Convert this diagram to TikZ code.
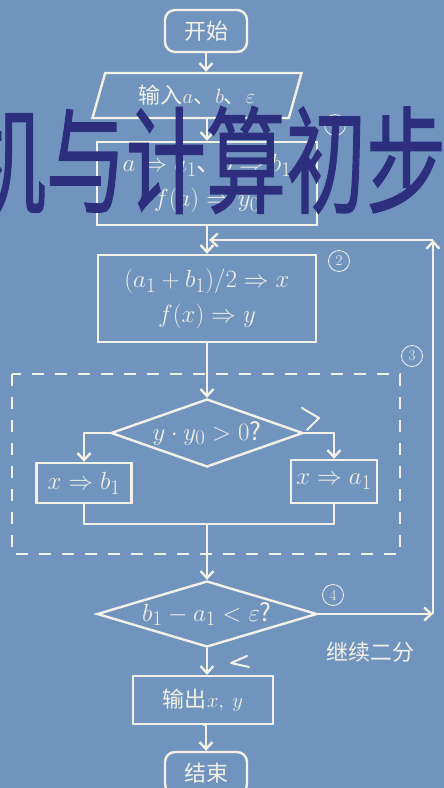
\documentclass[tikz,border=0pt]{standalone}
\usepackage{amsmath}
\usepackage{fontspec}
\newfontfamily\cjk{Noto Sans CJK SC}
\newfontfamily\cjkbig[FakeBold=1.2]{Noto Sans CJK SC}
\usetikzlibrary{arrows.meta,positioning,shapes.geometric,calc}
\definecolor{fbg}{HTML}{7094BE}
\definecolor{fline}{HTML}{F3F1E6}
\definecolor{fink}{HTML}{2E2E7E}
\newcommand{\mtxt}{\fontsize{24.88}{35}\selectfont}
\tikzset{
  >={Straight Barb[length=7pt,width=13pt]},
  fflow/.style={->, fline, line width=2.4pt},
  fseg/.style={fline, line width=2.4pt},
  fbox/.style={rectangle, draw=fline, line width=2.4pt, text=fline,
               align=center, inner sep=2pt, font=\cjk\mtxt},
  fterm/.style={fbox, rounded corners=10pt, minimum width=82pt, minimum height=42pt,
                font=\cjk\fontsize{22}{26}\selectfont},
  fio/.style={trapezium, trapezium left angle=58, trapezium right angle=122,
              trapezium stretches body, draw=fline, line width=2.4pt, text=fline,
              minimum width=209pt, minimum height=45pt, inner sep=0pt,
              font=\cjk\fontsize{22}{26}\selectfont},
  fdec/.style={diamond, draw=fline, line width=2.4pt, text=fline, inner sep=0pt,
               font=\cjk\mtxt},
  fnum/.style={circle, draw=fline, line width=0.8pt, text=fline, minimum size=21pt,
               inner sep=0pt, font=\fontsize{15}{15}\selectfont},
  fdash/.style={fline, line width=2.4pt, dash pattern=on 12pt off 11pt},
  fmark/.style={fline, line width=2pt, line cap=round, line join=round},
  flbl/.style={text=fline, font=\cjk\fontsize{22}{26}\selectfont},
}

\begin{document}
\begin{tikzpicture}[x=1pt, y=-1pt]

  % fundo
  \fill[fbg] (0,0) rectangle (444,788);
  \useasboundingbox (0,0) rectangle (444,788);
  \clip (0,0) rectangle (444,788);

  % blocos principais
  \node[fterm] (start) at (206,31) {开始};
  \node[fio] (input) at (197,95.5) {输入$a$、$b$、$\varepsilon$};
  \node[fbox, minimum width=220pt, minimum height=83pt] (init) at (207,183.5)
      {$a\Rightarrow a_1$、$b\Rightarrow b_1$\\$f(a)\Rightarrow y_0$};
  \node[fbox, minimum width=218pt, minimum height=87pt] (mid) at (207,298.5)
      {$(a_1+b_1)/2\Rightarrow x$\\$f(x)\Rightarrow y$};
  \node[fdec, aspect=2.8, minimum width=192pt, minimum height=68pt] (test) at (207,433)
      {$y\cdot y_0>0$?};
  \node[fbox, minimum width=95pt, minimum height=40pt] (setb) at (84,483)
      {$x\Rightarrow b_1$};
  \node[fbox, minimum width=86pt, minimum height=43pt] (seta) at (334,481.5)
      {$x\Rightarrow a_1$};
  \node[fdec, aspect=3.3, minimum width=220pt, minimum height=66pt] (stop) at (207,614)
      {$b_1-a_1<\varepsilon$?};
  \node[fbox, minimum width=140pt, minimum height=48pt,
        font=\cjk\fontsize{22}{26}\selectfont] (out) at (203,700)
      {输出$x,\ y$};
  \node[fterm] (end) at (206,773) {结束};

  % numeros circulados
  \node[fnum] (n1) at (335,125) {1};
  \node[fnum] (n2) at (339,261) {2};
  \node[fnum] (n3) at (412,356) {3};
  \node[fnum] (n4) at (333,595) {4};

  % bloco tracejado
  \draw[fdash] (12,374) rectangle (400,554);

  % ligacoes
  \draw[fflow] (start.south) -- (start.south |- input.north);
  \draw[fflow] (init.south |- input.south) -- (init.north);
  \draw[fflow] (init.south) -- (mid.north);
  \draw[fflow] (mid.south) -- (test.north);
  \draw[fflow] (test.west) -| (setb.north);
  \draw[fflow] (test.east) -| (seta.north);
  \coordinate (join) at (207,524);
  \draw[fseg] (setb.south) |- (join) -| (seta.south);
  \draw[fflow] (join) -- (stop.north);
  \draw[fflow] (stop.south) -- (stop.south |- out.north);
  \draw[fflow] (out.south) -- (out.south -| end.north) -- (end.north);

  % laco de volta
  \coordinate (lpa) at (433,614);
  \coordinate (lpb) at (433,240);
  \coordinate (lpc) at (209,240);
  \draw[fflow] (stop.east) -- (lpa);
  \draw[fflow] (lpa) -- (lpb);
  \draw[fflow] (lpb) -- (lpc);
  \node[flbl] (more) at (370,652) {继续二分};

  % marcas a mao
  \draw[fmark] (302,408) -- (319,418) -- (307,430);
  \draw[fmark] (247,656) -- (231,663) -- (249,667);

  % titulo sobreposto
  \node[text=fink, font=\cjkbig\fontsize{116}{116}\selectfont] (title) at (206,160)
      {\scalebox{0.69}[1]{机与计算初步}};

\end{tikzpicture}
\end{document}
